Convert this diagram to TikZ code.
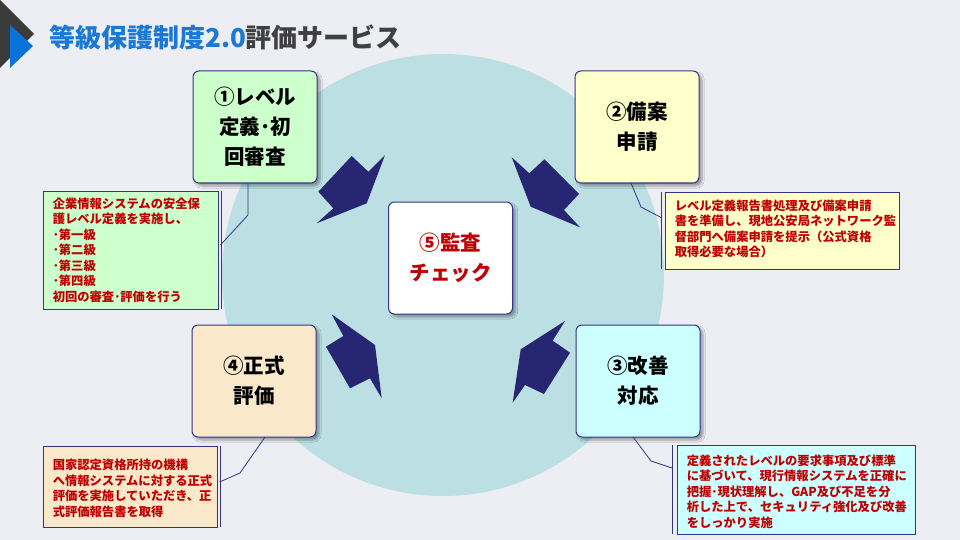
\documentclass[tikz,border=0pt]{standalone}
\usepackage{fontspec}
\setmainfont{Noto Sans CJK JP}
\usetikzlibrary{shadows.blur}
\definecolor{bg}{HTML}{EDEEF3}
\definecolor{circ}{HTML}{BBDFE3}
\definecolor{navy}{HTML}{262673}
\definecolor{edgec}{HTML}{34348A}
\definecolor{txtred}{HTML}{C00000}
\definecolor{tblue}{HTML}{1A78D6}
\definecolor{tgrey}{HTML}{404040}
\definecolor{tridark}{HTML}{3B3B3B}
\definecolor{triblue}{HTML}{0A73D9}
\definecolor{gfill}{HTML}{CCFFCC}
\definecolor{yfill}{HTML}{FFFFCC}
\definecolor{cfill}{HTML}{CCFFFF}
\definecolor{ofill}{HTML}{F9E8CA}
\tikzset{
  stagebox/.style={draw=edgec, line width=1pt, rounded corners=6pt,
    minimum width=124pt, minimum height=112pt, align=center,
    font=\fontsize{20.5}{30}\selectfont\bfseries,
    blur shadow={shadow xshift=3pt, shadow yshift=-3pt, shadow blur steps=6, shadow opacity=35}},
  notebox/.style={draw=edgec, line width=0.9pt, inner sep=0pt},
  notetext/.style={anchor=west, align=left, inner sep=0pt, text=txtred,
    font=\fontsize{12.3}{15.5}\selectfont\bfseries},
  accent/.style={draw=edgec, line width=0.9pt},
  calline/.style={draw=edgec, line width=0.8pt},
  flowarrow/.style={fill=navy, draw=none},
}
\begin{document}
\begin{tikzpicture}[x=1pt,y=-1pt]
\useasboundingbox (0,0) rectangle (960,540);
\fill[bg] (0,0) rectangle (960,540);
% title marker
\fill[tridark] (0,0) -- (34,34) -- (0,68) -- cycle;
\fill[triblue] (10,25) -- (33,46) -- (10,68) -- cycle;
\node[anchor=west, inner sep=0pt, font=\fontsize{26}{26}\selectfont\bfseries] (title) at (49,37)
  {\textcolor{tblue}{等級保護制度2.0}\textcolor{tgrey}{評価サービス}};
% big circle
\fill[circ] (443,275) circle (221);
% arrows
\fill[flowarrow] (351.7,156) -- (368.3,171.7) -- (385,155) -- (366.7,203.3) -- (316.7,223.3) -- (333.3,208.3) -- (318.3,191.7) -- cycle;
\fill[flowarrow] (511.7,157.3) -- (529.3,173.3) -- (544.3,159.3) -- (579,194) -- (564,210) -- (580,227.3) -- (530.7,206.7) -- cycle;
\fill[flowarrow] (331.7,314.3) -- (343.3,336) -- (326,346.7) -- (350,388.3) -- (370,378.3) -- (381.7,398.3) -- (375,345) -- cycle;
\fill[flowarrow] (565,321) -- (552.7,340.7) -- (570,352.7) -- (544,394) -- (525,385) -- (512.7,402.7) -- (520.7,349.3) -- cycle;
% stage nodes
\node[stagebox, fill=gfill] (s1) at (255,127) {①レベル\\定義･初\\回審査};
\node[stagebox, fill=yfill] (s2) at (637,127) {②備案\\申請};
\node[stagebox, fill=cfill] (s3) at (638,381) {③改善\\対応};
\node[stagebox, fill=ofill] (s4) at (254,381) {④正式\\評価};
\node[stagebox, fill=white, text=txtred] (s5) at (450.5,258) {⑤監査\\チェック};
% note boxes
\node[notebox, fill=gfill, minimum width=175pt, minimum height=118pt] (b1) at (130.5,250) {};
\node[notetext] (t1) at ([xshift=10pt]b1.west) {企業情報システムの安全保\\護レベル定義を実施し、\\･第一級\\･第二級\\･第三級\\･第四級\\初回の審査･評価を行う};
\node[notebox, fill=yfill, minimum width=234pt, minimum height=77pt] (b2) at (782,230.5) {};
\node[notetext] (t2) at ([xshift=10pt,yshift=1.5pt]b2.west) {レベル定義報告書処理及び備案申請\\書を準備し、現地公安局ネットワーク監\\督部門へ備案申請を提示（公式資格\\取得必要な場合）};
\node[notebox, fill=cfill, minimum width=238pt, minimum height=89pt] (b3) at (796,489.5) {};
\node[notetext] (t3) at ([xshift=10pt,yshift=-2pt]b3.west) {定義されたレベルの要求事項及び標準\\に基づいて、現行情報システムを正確に\\把握･現状理解し、GAP及び不足を分\\析した上で、セキュリティ強化及び改善\\をしっかり実施};
\node[notebox, fill=ofill, minimum width=174pt, minimum height=81pt] (b4) at (130,486.5) {};
\node[notetext] (t4) at ([xshift=10pt,yshift=-2pt]b4.west) {国家認定資格所持の機構\\へ情報システムに対する正式\\評価を実施していただき、正\\式評価報告書を取得};
% accent bars
\draw[accent] ([xshift=2.5pt]b1.north east) -- ([xshift=2.5pt]b1.south east);
\draw[accent] ([xshift=-3pt]b2.north west) -- ([xshift=-3pt]b2.south west);
\draw[accent] ([xshift=-4pt]b3.north west) -- ([xshift=-4pt]b3.south west);
\draw[accent] ([xshift=2.5pt]b4.north east) -- ([xshift=2.5pt]b4.south east);
% callout lines
\coordinate (k1) at (248,215);
\coordinate (e1) at (220.5,245);
\draw[calline] (k1 |- s1.south) -- (k1) -- (e1);
\coordinate (k2a) at (631,183);
\coordinate (k2) at (641,207);
\coordinate (e2) at (662,218);
\draw[calline] (k2a) -- (k2) -- (e2);
\coordinate (k3a) at (633,437);
\coordinate (k3) at (651,461);
\coordinate (e3) at (672,468);
\draw[calline] (k3a) -- (k3) -- (e3);
\coordinate (k4a) at (265,437);
\coordinate (k4) at (240,473);
\coordinate (e4) at (219.5,482);
\draw[calline] (k4a) -- (k4) -- (e4);
\end{tikzpicture}
\end{document}
